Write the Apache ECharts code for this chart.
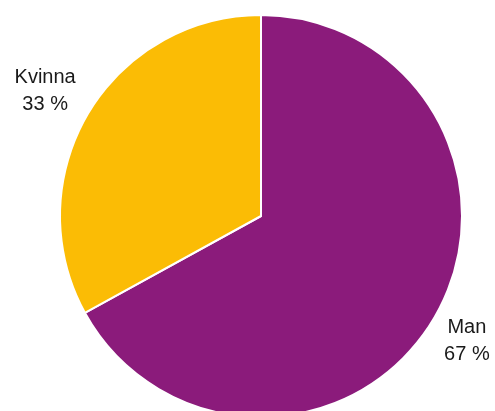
<!DOCTYPE html>
<html>
<head>
<meta charset="utf-8">
<script src="https://cdn.jsdelivr.net/npm/echarts@6/dist/echarts.min.js"></script>
<style>
html,body{margin:0;padding:0;background:#fff;}
#chart{width:495px;height:411px;}
</style>
</head>
<body>
<div id="chart"></div>
<script>
const categories = ['Man', 'Kvinna'];
const values = [67, 33];
const colors = ['#8B1B7B', '#FBBC05'];

const data = categories.map((c, i) => ({ name: c, value: values[i], itemStyle: { color: colors[i] } }));
const labelData = categories.map((c, i) => ({ name: c, value: values[i] }));

const chart = echarts.init(document.getElementById('chart'), null, { renderer: 'canvas' });
chart.setOption({
  animation: false,
  backgroundColor: '#fff',
  series: [
    {
      type: 'pie',
      center: [261, 216],
      radius: [0, 201],
      startAngle: 90,
      clockwise: true,
      data: data,
      itemStyle: { borderColor: '#fff', borderWidth: 2 },
      label: { show: false },
      labelLine: { show: false },
      emphasis: { disabled: true }
    },
    {
      type: 'pie',
      center: [256, 216],
      radius: [0, 484],
      startAngle: 90,
      clockwise: true,
      silent: true,
      z: 5,
      data: labelData,
      itemStyle: { color: 'rgba(0,0,0,0)' },
      label: {
        show: true,
        position: 'inside',
        formatter: (p) => p.name + '\n' + p.value + ' %',
        fontFamily: 'Liberation Sans, Arial, sans-serif',
        fontSize: 20,
        lineHeight: 27,
        color: '#1a1a1a',
        align: 'center'
      },
      labelLine: { show: false },
      emphasis: { disabled: true }
    }
  ]
});
</script>
</body>
</html>
